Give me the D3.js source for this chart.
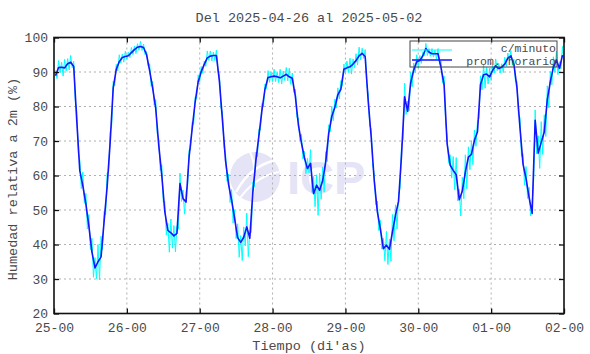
<!DOCTYPE html>
<html><head><meta charset="utf-8">
<script src="https://cdn.jsdelivr.net/npm/d3@7"></script>
<style>
body{margin:0;background:#fff}
svg{display:block}
text{font-family:"Liberation Mono","DejaVu Sans Mono",monospace}
</style>
</head><body>
<svg id="c" width="590" height="354"></svg>
<script>
const title = "Del 2025-04-26 al 2025-05-02";
const xTitle = "Tiempo (di'as)";
const yTitle = "Humedad relativa a 2m (%)";
const legendLabels = ["c/minuto", "prom. horario"];
const dayLabels = ["25-00","26-00","27-00","28-00","29-00","30-00","01-00","02-00"];
const yTicks = [20,30,40,50,60,70,80,90,100];

// hourly mean relative humidity (%), one value per hour, 7 days
const hourlyRH = [
  88.9,91.3,91.4,91.2,92.4,92.8,91.6,75.9,61.4,57.0,51.8,45.2,37.8,33.2,35.0,36.4,46.6,56.7,69.6,85.3,90.7,93.0,94.2,94.5,
  94.7,95.6,96.5,97.2,97.4,97.1,95.0,90.4,85.3,79.5,68.8,60.1,49.5,44.1,43.4,42.5,43.2,57.7,53.3,52.3,65.4,73.4,81.3,87.2,
  90.1,92.2,94.1,94.6,94.8,94.8,87.2,75.9,64.4,57.4,52.9,47.5,42.0,40.6,42.1,45.1,41.8,55.1,64.3,71.5,78.9,85.0,88.4,88.6,
  88.8,88.6,88.3,88.8,89.3,88.6,88.2,83.0,74.7,69.5,65.1,62.0,63.5,54.7,57.2,55.7,58.5,63.9,72.2,77.1,79.7,83.4,85.0,90.8,
  91.2,91.5,92.3,93.3,94.7,95.4,94.5,81.6,71.0,58.4,49.6,44.5,38.8,39.8,38.6,43.7,48.5,52.5,66.2,82.8,78.6,86.9,90.6,93.0,
  93.3,94.7,96.8,95.8,95.3,95.3,95.3,91.2,86.3,69.2,63.0,61.5,60.2,53.0,55.5,61.0,65.3,66.1,70.2,72.7,86.4,89.2,89.4,88.6,
  90.5,91.8,91.0,91.4,92.3,94.0,94.7,92.2,85.4,73.8,63.3,59.1,53.6,49.0,76.0,66.5,69.6,72.6,82.0,87.2,91.4,93.5,91.0,94.9
];
// per-minute trace: highest and lowest excursion above / below the hourly mean, read per hour
const cyanUp = [
  1.5,2,1.5,2.5,1.5,2,1.5,3, 3,4,3,3.5, 4,3,5,6, 3,4,3,2, 1.5,2,1,1.5,
  1,1.5,1,1,1.5,1,1,2, 2,2.5,2,3, 3,2,4,3, 2,3,2.5,3, 2,2,1.5,2,
  1.5,1,2,1.5,1,1.5,2,2.5, 2,3,3,2.5, 4,2,3,4, 2,3,2.5,2, 2,1.5,2,1.5,
  2,1.5,2.5,1.5,2,2.5,1.5,2, 2,2.5,2,3, 4,5,3,5, 4,3,2.5,3, 2.5,2,2.5,1.5,
  2,2.5,1.5,2,2.5,1.5,2,2, 2.5,2,3,2.5, 3,4,3,5, 3,2,3,4, 3,3,2,2,
  1.5,1,1.5,1,1.5,1,1.5,2, 2.5,2,3,4, 5,3,4,5, 3,4,3,3, 2.5,3,2,2.5,
  1.5,2,1.5,1,2,1.5,1.5,1.5, 2,3,3,3.5, 3,3,3,5, 6,5,4,3, 3,2.5,2,2.5
];
const cyanDown = [
  2,1.5,2.5,1.5,2,1,2,2, 3,2.5,4,3, 5,4,6,3, 3,2,3,2, 1.5,1,1.5,1,
  1,1,1.5,1,1,1,1,2, 2,2,3,2.5, 4,6,4,5, 6,3,4,2, 2,2.5,2,1.5,
  1.5,1.5,1,1.5,1.5,1,2,2, 2.5,3,4,3, 5,6,4,7, 5,3,2.5,2, 2,1.5,1.5,1.5,
  1.5,1.5,2,1.5,1.5,2,1.5,2, 2,2.5,3,2, 4,5,8,4, 6,4,2,2.5, 2,2,2,1.5,
  1.5,2.5,1.5,2,1.5,1,1.5,2, 2,2.5,3,3, 4,5,6,5, 6,3,4,3, 4,3,2,2,
  1.5,1,1.5,1,1,1.5,1,2, 2,2.5,3,5, 4,6,5,7, 4,5,3,3, 3,4,2.5,2,
  1.5,1,1.5,2,1.5,1,1.5,1.5, 2,3,4,3, 3,4,5,6, 5,6,5,3, 2.5,3,2,2
];

const svg = d3.select("#c");
const L = 54, R = 564, T = 37.5, B = 313.5;
const x = d3.scaleLinear().domain([0, 7]).range([L, R]);
const y = d3.scaleLinear().domain([20, 100]).range([B, T]);
const txt = "#4a4a4a";

svg.append("rect").attr("width", 590).attr("height", 354).attr("fill", "#fff");

// watermark
const wm = svg.append("g");
wm.append("circle").attr("cx", 255).attr("cy", 177).attr("r", 25).attr("fill", "#e4e4f6");
wm.append("path").attr("d", "M236,192 Q250,166 276,160").attr("stroke", "#fff").attr("stroke-width", 2.5).attr("fill", "none");
wm.append("path").attr("d", "M240,198 Q256,176 279,172").attr("stroke", "#fff").attr("stroke-width", 2).attr("fill", "none");
wm.append("path").attr("d", "M250,152 Q258,168 252,200").attr("stroke", "#fff").attr("stroke-width", 2).attr("fill", "none");
wm.append("text").attr("x", 287).attr("y", 194).text("ICP")
  .style("font-family", "'Liberation Sans',Arial,sans-serif").attr("font-weight", "bold")
  .attr("font-size", 47).attr("fill", "#e4e4f6");

// grid
const grid = svg.append("g").attr("stroke", "#b0b0b0").attr("stroke-width", 1).attr("stroke-dasharray", "2,3");
grid.selectAll(".gx").data(d3.range(1, 7)).join("line")
  .attr("x1", d => x(d)).attr("x2", d => x(d)).attr("y1", T).attr("y2", B);
grid.selectAll(".gy").data(yTicks.slice(1, -1)).join("line")
  .attr("x1", L).attr("x2", R).attr("y1", d => y(d)).attr("y2", d => y(d));

// per-minute trace
const tOf = k => (k + 0.5) / 24;
const cyanPts = [];
hourlyRH.forEach((v, k) => {
  cyanPts.push([tOf(k), v + cyanUp[k]]);
  const nxt = k < hourlyRH.length - 1 ? (v + hourlyRH[k + 1]) / 2 : v;
  cyanPts.push([(k + 1) / 24, nxt - cyanDown[k]]);
});
const line = d3.line().x(d => x(d[0])).y(d => y(d[1]));
svg.append("path").datum(cyanPts).attr("d", line)
  .attr("fill", "none").attr("stroke", "#00ffff").attr("stroke-width", 1);

// hourly mean
svg.append("path").datum(hourlyRH.map((v, k) => [tOf(k), v])).attr("d", line)
  .attr("fill", "none").attr("stroke", "#1414ff").attr("stroke-width", 1.6).attr("stroke-linejoin", "round");

// axes
const fmtAxis = g => {
  g.select(".domain").remove();
  g.selectAll(".tick line").attr("stroke", "#111").attr("stroke-width", 1.3);
  g.selectAll("text").attr("fill", txt).attr("font-size", 13)
    .style("font-family", "'Liberation Mono',monospace");
};
svg.append("g").attr("transform", `translate(${L},0)`)
  .call(d3.axisLeft(y).tickValues(yTicks).tickSize(-5).tickPadding(6)).call(fmtAxis);
svg.append("g").attr("transform", `translate(${R},0)`)
  .call(d3.axisRight(y).tickValues(yTicks).tickSize(-5).tickFormat("")).call(fmtAxis);
svg.append("g").attr("transform", `translate(0,${B})`)
  .call(d3.axisBottom(x).tickValues(d3.range(8)).tickFormat(i => dayLabels[i]).tickSize(-5).tickPadding(9)).call(fmtAxis);
svg.append("g").attr("transform", `translate(0,${T})`)
  .call(d3.axisTop(x).tickValues(d3.range(8)).tickSize(-5).tickFormat("")).call(fmtAxis);

// frame
svg.append("rect").attr("x", L).attr("y", T).attr("width", R - L).attr("height", B - T)
  .attr("fill", "none").attr("stroke", "#111").attr("stroke-width", 1.6);

// titles
svg.append("text").attr("x", 309).attr("y", 22).attr("text-anchor", "middle")
  .attr("font-size", 13.5).attr("fill", txt).text(title);
svg.append("text").attr("x", 309).attr("y", 350).attr("text-anchor", "middle")
  .attr("font-size", 13.5).attr("fill", txt).text(xTitle);
svg.append("text").attr("transform", "translate(17,179) rotate(-90)").attr("text-anchor", "middle")
  .attr("font-size", 13.5).attr("fill", txt).text(yTitle);

// legend
const lg = svg.append("g");
lg.append("rect").attr("x", 410).attr("y", 41).attr("width", 147).attr("height", 26)
  .attr("fill", "none").attr("stroke", "#444").attr("stroke-width", 1);
const lgColors = ["#00ffff", "#1414ff"], lgW = [1, 1.6], lgY = [50, 60], lgTY = [52, 64.5];
legendLabels.forEach((s, i) => {
  lg.append("line").attr("x1", 412).attr("x2", 452).attr("y1", lgY[i]).attr("y2", lgY[i])
    .attr("stroke", lgColors[i]).attr("stroke-width", lgW[i]);
  lg.append("text").attr("x", 556).attr("y", lgTY[i]).attr("text-anchor", "end")
    .attr("font-size", 11.5).attr("fill", txt).text(s);
});
</script>
</body></html>
